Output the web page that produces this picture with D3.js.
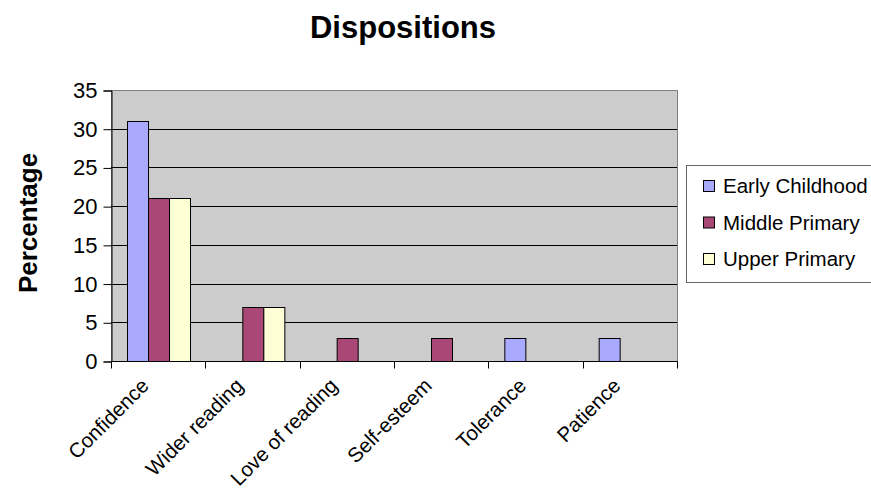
<!DOCTYPE html>
<html>
<head>
<meta charset="utf-8">
<script src="https://cdn.jsdelivr.net/npm/d3@7"></script>
<style>
  html, body { margin: 0; padding: 0; background: #fff; }
  svg { display: block; font-family: Arial, "Liberation Sans", sans-serif; }
</style>
</head>
<body>
<svg id="chart" width="871" height="493"></svg>
<script>
// Share of responses per disposition, by school stage
const categories = ["Confidence", "Wider reading", "Love of reading", "Self-esteem", "Tolerance", "Patience"];
const seriesNames = ["Early Childhood", "Middle Primary", "Upper Primary"];
const earlyChildhood = [31, 0, 0, 0, 3, 3];
const middlePrimary  = [21, 7, 3, 3, 0, 0];
const upperPrimary   = [21, 7, 0, 0, 0, 0];
const yTicks = [0, 5, 10, 15, 20, 25, 30, 35];
const colors = ["#A9A9FF", "#A94876", "#FFFFD6"];

const seriesValues = [earlyChildhood, middlePrimary, upperPrimary];
const rows = categories.map((c, i) => ({
  category: c,
  values: seriesNames.map((s, j) => ({ series: s, value: seriesValues[j][i], idx: j }))
}));

const svg = d3.select("#chart");
const plot = { left: 111, right: 677, top: 90, bottom: 361 };

const x = d3.scaleBand().domain(categories).range([plot.left, plot.right]).paddingInner(0).paddingOuter(0);
const inner = d3.scaleBand().domain(seriesNames).range([0, x.bandwidth()]).paddingInner(0).paddingOuter(0.75);
const y = d3.scaleLinear().domain([0, 35]).range([plot.bottom, plot.top]);

// plot background
svg.append("rect")
  .attr("x", plot.left + 0.5).attr("y", plot.top + 0.5)
  .attr("width", plot.right - plot.left).attr("height", plot.bottom - plot.top)
  .attr("fill", "#CCCCCC")
  .attr("stroke", "#808080").attr("stroke-width", 1);

// horizontal gridlines
svg.append("g")
  .selectAll("line")
  .data(yTicks.filter(t => t > 0 && t < 35))
  .join("line")
  .attr("x1", plot.left).attr("x2", plot.right)
  .attr("y1", d => Math.round(y(d)) + 0.5).attr("y2", d => Math.round(y(d)) + 0.5)
  .attr("stroke", "#000").attr("stroke-width", 1);

// bars
const groups = svg.append("g")
  .selectAll("g")
  .data(rows)
  .join("g")
  .attr("transform", d => `translate(${x(d.category)},0)`);

groups.selectAll("rect")
  .data(d => d.values.filter(v => v.value > 0))
  .join("rect")
  .attr("x", d => Math.round(inner(d.series)) + 0.5)
  .attr("y", d => Math.round(y(d.value)) + 0.5)
  .attr("width", Math.round(inner.bandwidth()))
  .attr("height", d => Math.round(y(0)) - Math.round(y(d.value)))
  .attr("fill", d => colors[d.idx])
  .attr("stroke", "#000").attr("stroke-width", 1);

// y axis
const yAxis = svg.append("g")
  .attr("transform", `translate(${plot.left + 0.5},0.5)`)
  .call(d3.axisLeft(y).tickValues(yTicks).tickSize(8).tickPadding(6).tickFormat(d3.format("d")));
yAxis.select(".domain").attr("stroke", "#000");
yAxis.selectAll(".tick line").attr("stroke", "#000");
yAxis.selectAll(".tick text")
  .attr("font-size", "22px").attr("fill", "#000")
  .attr("font-family", "Arial, 'Liberation Sans', sans-serif");

// x axis with ticks at category boundaries
const xAxisG = svg.append("g").attr("transform", `translate(0.5,${plot.bottom + 0.5})`);
xAxisG.append("line")
  .attr("x1", plot.left).attr("x2", plot.right)
  .attr("stroke", "#000");
const boundaries = categories.map(c => x(c)).concat([plot.right]);
xAxisG.selectAll("line.tk")
  .data(boundaries)
  .join("line")
  .attr("class", "tk")
  .attr("x1", d => Math.round(d)).attr("x2", d => Math.round(d))
  .attr("y1", 0).attr("y2", 7)
  .attr("stroke", "#000");

svg.append("g")
  .selectAll("text")
  .data(categories)
  .join("text")
  .attr("transform", d => `translate(${x(d) + x.bandwidth() / 2 - 8},${plot.bottom + 26}) rotate(-45)`)
  .attr("text-anchor", "end")
  .attr("font-size", "20.5px")
  .attr("fill", "#000")
  .text(d => d);

// title
svg.append("text")
  .attr("x", 403).attr("y", 38)
  .attr("text-anchor", "middle")
  .attr("font-size", "31px").attr("font-weight", "bold")
  .text("Dispositions");

// y axis title
svg.append("text")
  .attr("transform", `translate(37,223) rotate(-90)`)
  .attr("text-anchor", "middle")
  .attr("font-size", "26px").attr("font-weight", "bold")
  .text("Percentage");

// legend
const legend = svg.append("g");
legend.append("rect")
  .attr("x", 686.5).attr("y", 165.5)
  .attr("width", 200).attr("height", 117)
  .attr("fill", "#fff").attr("stroke", "#666").attr("stroke-width", 1);
const items = legend.selectAll("g.item")
  .data(seriesNames)
  .join("g")
  .attr("class", "item")
  .attr("transform", (d, i) => `translate(703,${185 + i * 36.5})`);
items.append("rect")
  .attr("x", 0.5).attr("y", -4.5)
  .attr("width", 11).attr("height", 11)
  .attr("fill", (d, i) => colors[i])
  .attr("stroke", "#000").attr("stroke-width", 1);
items.append("text")
  .attr("x", 20).attr("y", 8)
  .attr("font-size", "20.5px")
  .text(d => d);
</script>
</body>
</html>
